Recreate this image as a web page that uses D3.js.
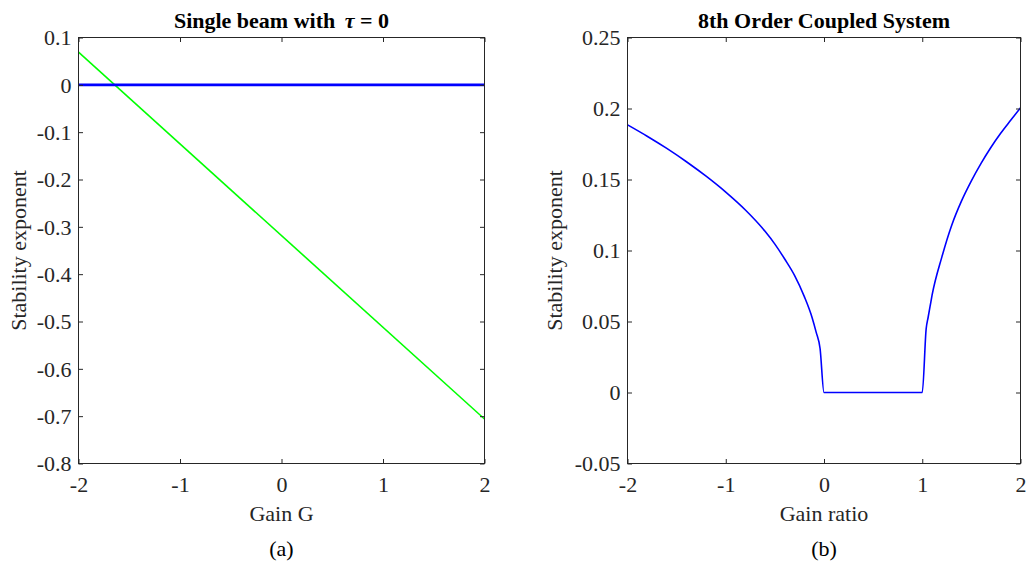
<!DOCTYPE html>
<html>
<head>
<meta charset="utf-8">
<script src="https://cdn.jsdelivr.net/npm/d3@7"></script>
<style>
  html, body { margin: 0; padding: 0; background: #ffffff; }
  svg { display: block; }
  text { font-family: "Liberation Serif", "Times New Roman", Times, "DejaVu Serif", serif; fill: #262626; }
</style>
</head>
<body>
<svg id="chart" width="1028" height="567"></svg>
<script>
// ---- data ----
const gainTicks = [-2, -1, 0, 1, 2];
const gainTickLabels = ["-2", "-1", "0", "1", "2"];

// (a) single beam, tau = 0
const singleGain = [-2, 2];
const singleExpGreen = [0.069, -0.706];
const singleExpBlue = [0, 0];
const leftYTicks = [0.1, 0, -0.1, -0.2, -0.3, -0.4, -0.5, -0.6, -0.7, -0.8];
const leftYTickLabels = ["0.1", "0", "-0.1", "-0.2", "-0.3", "-0.4", "-0.5", "-0.6", "-0.7", "-0.8"];

// (b) 8th order coupled system
const gainRatio = [-2, -1.8, -1.6, -1.4, -1.2, -1.0, -0.8, -0.6, -0.5, -0.4, -0.3, -0.2, -0.12, -0.08, -0.04,
                   0, 0.5, 1.0, 1.04, 1.06, 1.08, 1.1, 1.2, 1.3, 1.4, 1.5, 1.6, 1.7, 1.8, 1.9, 2.0];
const coupledExp = [0.1885, 0.1805, 0.1719, 0.1625, 0.1523, 0.1411, 0.1285, 0.1135, 0.1045, 0.094, 0.0825, 0.0675, 0.0525, 0.0425, 0.031,
                    0, 0, 0, 0.045, 0.053, 0.0608, 0.0685, 0.0955, 0.1178, 0.1349, 0.149, 0.1615, 0.1727, 0.1827, 0.1917, 0.2005];
const rightYTicks = [-0.05, 0, 0.05, 0.1, 0.15, 0.2, 0.25];
const rightYTickLabels = ["-0.05", "0", "0.05", "0.1", "0.15", "0.2", "0.25"];

// ---- layout ----
const svg = d3.select("#chart");
const plotTop = 37.5, plotBottom = 463.5;
const FS = 22;
const serif = "Liberation Serif, Times New Roman, serif";
const axisColor = "#262626";
const tickLen = 4.5;

function panel(opts) {
  const x = d3.scaleLinear().domain([-2, 2]).range([opts.left, opts.right]);
  const y = d3.scaleLinear().domain(opts.yDomain).range([plotBottom, plotTop]);
  const g = svg.append("g");

  // data lines
  const clipId = "clip-" + opts.id;
  svg.append("clipPath").attr("id", clipId).append("rect")
    .attr("x", opts.left).attr("y", plotTop - 2).attr("width", opts.right - opts.left).attr("height", plotBottom - plotTop + 4);
  const plot = g.append("g").attr("clip-path", `url(#${clipId})`);
  opts.series.forEach(s => {
    const pts = s.x.map((v, i) => [v, s.y[i]]);
    plot.append("path")
      .attr("d", d3.line().x(d => x(d[0])).y(d => y(d[1])).curve(s.curve || d3.curveLinear)(pts))
      .attr("fill", "none")
      .attr("stroke", s.color)
      .attr("stroke-width", s.width)
      .attr("stroke-linejoin", "round");
  });

  // axes with inward ticks on all four sides
  const fmtX = (d, i) => gainTickLabels[i];
  const fmtY = (d, i) => opts.yLabels[i];
  const ax = g.append("g").attr("transform", `translate(0,${plotBottom})`)
    .call(d3.axisBottom(x).tickValues(gainTicks).tickFormat(fmtX).tickSizeInner(-tickLen).tickSizeOuter(0));
  const axTop = g.append("g").attr("transform", `translate(0,${plotTop})`)
    .call(d3.axisTop(x).tickValues(gainTicks).tickFormat("").tickSizeInner(-tickLen).tickSizeOuter(0));
  const ay = g.append("g").attr("transform", `translate(${opts.left},0)`)
    .call(d3.axisLeft(y).tickValues(opts.yTicks).tickFormat(fmtY).tickSizeInner(-tickLen).tickSizeOuter(0));
  const ayR = g.append("g").attr("transform", `translate(${opts.right},0)`)
    .call(d3.axisRight(y).tickValues(opts.yTicks).tickFormat("").tickSizeInner(-tickLen).tickSizeOuter(0));
  [ax, axTop, ay, ayR].forEach(a => {
    a.attr("font-family", serif);
    a.select(".domain").remove();
    a.selectAll("line").attr("stroke", axisColor).attr("stroke-width", 1);
    a.selectAll("text").attr("font-size", FS).attr("font-family", serif).attr("fill", axisColor);
  });
  ax.selectAll("text").attr("dy", null).attr("y", 28.5);
  ay.selectAll("text").attr("dy", "0.34em").attr("x", -7);

  // box
  g.append("rect")
    .attr("x", opts.left).attr("y", plotTop)
    .attr("width", opts.right - opts.left).attr("height", plotBottom - plotTop)
    .attr("fill", "none").attr("stroke", axisColor).attr("stroke-width", 1);

  const cx = (opts.left + opts.right) / 2;
  // title
  const t = g.append("text").attr("x", cx).attr("y", 27.5).attr("text-anchor", "middle")
    .attr("font-size", 22).attr("font-weight", "bold").style("fill", "#000");
  opts.title(t);
  // x label
  g.append("text").attr("x", cx).attr("y", 521).attr("text-anchor", "middle")
    .attr("font-size", FS).text(opts.xLabel);
  // panel tag
  g.append("text").attr("x", cx).attr("y", 556).attr("text-anchor", "middle")
    .attr("font-size", FS).style("fill", "#000").text(opts.tag);
  // y label
  g.append("text")
    .attr("transform", `translate(${opts.yLabelX},${(plotTop + plotBottom) / 2}) rotate(-90)`)
    .attr("text-anchor", "middle").attr("font-size", FS).text("Stability exponent");
}

panel({
  id: "a", left: 78.5, right: 484.5, yDomain: [-0.8, 0.1],
  yTicks: leftYTicks, yLabels: leftYTickLabels,
  series: [
    { x: singleGain, y: singleExpGreen, color: "#00ff00", width: 1.6 },
    { x: singleGain, y: singleExpBlue, color: "#0000ff", width: 2.7 }
  ],
  title: t => {
    t.append("tspan").text("Single beam with ");
    t.append("tspan").attr("font-style", "italic").attr("dx", 4).text("τ");
    t.append("tspan").text(" = 0");
  },
  xLabel: "Gain G", tag: "(a)", yLabelX: 26
});

panel({
  id: "b", left: 627.5, right: 1020.5, yDomain: [-0.05, 0.25],
  yTicks: rightYTicks, yLabels: rightYTickLabels,
  series: [
    { x: gainRatio, y: coupledExp, color: "#0000ff", width: 1.6, curve: d3.curveMonotoneX }
  ],
  title: t => t.text("8th Order Coupled System"),
  xLabel: "Gain ratio", tag: "(b)", yLabelX: 562
});
</script>
</body>
</html>
